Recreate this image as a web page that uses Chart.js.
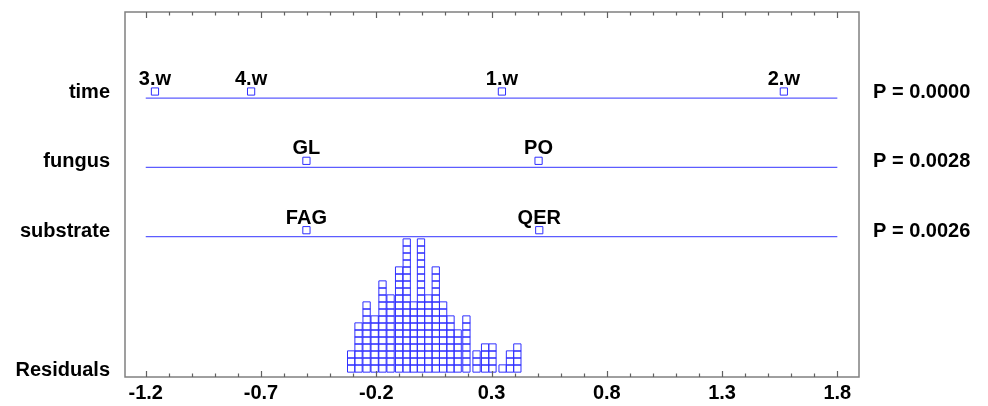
<!DOCTYPE html>
<html lang="en">
<head>
  <meta charset="UTF-8">
  <title>Effects and residuals</title>
  <script src="https://cdn.jsdelivr.net/npm/chart.js"></script>
  <style>
    body {
      margin: 0;
      background: #ffffff;
    }
    canvas {
      display: block;
    }
  </style>
</head>
<body>

  <canvas id="effectChart" width="988" height="406"></canvas>

  <script>
    // factor rows (top to bottom) and their p-values
    const factorNames = ['time', 'fungus', 'substrate'];
    const pValues = ['P = 0.0000', 'P = 0.0028', 'P = 0.0026'];

    // level effects per factor
    const timeLevels = ['3.w', '4.w', '1.w', '2.w'];
    const timeEffects = [-1.16, -0.743, 0.345, 1.568];
    const fungusLevels = ['GL', 'PO'];
    const fungusEffects = [-0.503, 0.504];
    const substrateLevels = ['FAG', 'QER'];
    const substrateEffects = [-0.503, 0.507];

    // residuals, binned: bin centre and number of stacked squares
    const residualBins = [-0.309, -0.277, -0.242, -0.207, -0.173, -0.138, -0.101, -0.068,
      -0.038, -0.006, 0.026, 0.058, 0.090, 0.122, 0.153, 0.191, 0.235, 0.272, 0.304,
      0.348, 0.380, 0.412];
    const residualCounts = [3, 7, 10, 8, 13, 11, 15, 19, 10, 19, 11, 15, 10, 8, 6, 8, 3, 4, 4, 1, 3, 4];

    // x axis tick labels
    const tickLabels = ['-1.2', '-0.7', '-0.2', '0.3', '0.8', '1.3', '1.8'];

    const blue = '#3030ff';
    const lineBlue = '#5c5cff';
    // vertical placement of the rows, in square units above the residual base
    const rowY = [39.14, 29.24, 19.33];
    const markerLift = 0.93;

    const levels = [timeLevels, fungusLevels, substrateLevels];
    const effects = [timeEffects, fungusEffects, substrateEffects];

    const residualPoints = [];
    residualBins.forEach((x, i) => {
      for (let k = 0; k < residualCounts[i]; k++) {
        residualPoints.push({ x: x, y: k + 0.5 });
      }
    });

    const markerPoints = [];
    effects.forEach((row, r) => {
      row.forEach((x, i) => {
        markerPoints.push({ x: x, y: rowY[r] + markerLift, label: levels[r][i] });
      });
    });

    const lineSets = rowY.map(y => ({
      type: 'line',
      data: [{ x: -1.2, y: y }, { x: 1.8, y: y }],
      borderColor: lineBlue,
      borderWidth: 1.2,
      pointRadius: 0
    }));

    const minorTicks = [];
    for (let i = 0; i <= 30; i++) minorTicks.push(Math.round((-1.2 + i * 0.1) * 10) / 10);

    const labelPlugin = {
      id: 'labels',
      afterDraw(chart) {
        const { ctx, chartArea: a, scales: { x, y } } = chart;
        ctx.save();

        // frame
        ctx.strokeStyle = '#808080';
        ctx.lineWidth = 1.5;
        ctx.strokeRect(a.left, a.top, a.right - a.left, a.bottom - a.top);

        // inward ticks top and bottom
        ctx.strokeStyle = '#606060';
        ctx.lineWidth = 1.2;
        minorTicks.forEach(v => {
          const px = Math.round(x.getPixelForValue(v)) + 0.5;
          const major = tickLabels.includes(v.toFixed(1));
          const len = major ? 6 : 3.5;
          ctx.beginPath();
          ctx.moveTo(px, a.top);
          ctx.lineTo(px, a.top + len);
          ctx.moveTo(px, a.bottom);
          ctx.lineTo(px, a.bottom - len);
          ctx.stroke();
        });

        ctx.fillStyle = '#000000';
        ctx.font = 'bold 20px "Liberation Sans", Arial, sans-serif';
        ctx.textBaseline = 'alphabetic';

        // row names on the left, p-values on the right
        rowY.forEach((v, r) => {
          const py = y.getPixelForValue(v);
          ctx.textAlign = 'right';
          ctx.fillText(factorNames[r], a.left - 15, py);
          ctx.textAlign = 'left';
          ctx.fillText(pValues[r], a.right + 14, py);
        });
        ctx.textAlign = 'right';
        ctx.fillText('Residuals', a.left - 15, y.getPixelForValue(0) + 4);

        // level names above the markers
        ctx.textAlign = 'center';
        markerPoints.forEach(p => {
          ctx.fillText(p.label, x.getPixelForValue(p.x), y.getPixelForValue(p.y) - 6.5);
        });

        ctx.restore();
      }
    };

    const ctx = document.getElementById('effectChart').getContext('2d');
    new Chart(ctx, {
      type: 'scatter',
      data: {
        datasets: [
          ...lineSets,
          {
            data: markerPoints,
            pointStyle: 'rect',
            pointRadius: 5.1,
            borderColor: blue,
            borderWidth: 1,
            backgroundColor: 'rgba(255,255,255,0)'
          },
          {
            data: residualPoints,
            pointStyle: 'rect',
            pointRadius: 5.15,
            borderColor: blue,
            borderWidth: 1,
            backgroundColor: 'rgba(255,255,255,0)'
          }
        ]
      },
      options: {
        responsive: false,
        animation: false,
        layout: { padding: { left: 125, right: 129, top: 12, bottom: 0 } },
        plugins: {
          legend: { display: false },
          tooltip: { enabled: false }
        },
        scales: {
          x: {
            type: 'linear',
            min: -1.29,
            max: 1.894,
            afterBuildTicks: scale => {
              scale.ticks = tickLabels.map(t => ({ value: parseFloat(t) }));
            },
            afterFit: scale => { scale.height = 29; },
            grid: { display: false, drawTicks: false },
            border: { display: false },
            ticks: {
              autoSkip: false,
              maxRotation: 0,
              padding: 4,
              color: '#000000',
              font: { family: '"Liberation Sans", Arial, sans-serif', size: 20, weight: 'bold' },
              callback: v => v.toFixed(1)
            }
          },
          y: {
            type: 'linear',
            display: false,
            min: -0.714,
            max: 51.43
          }
        }
      },
      plugins: [labelPlugin]
    });
  </script>

</body>
</html>
